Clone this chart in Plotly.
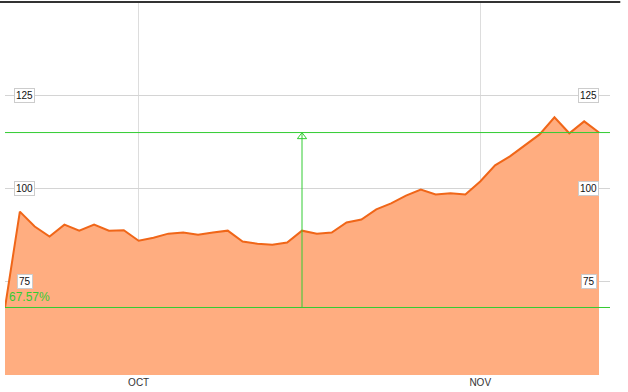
import plotly.graph_objects as go

# Daily closing values (trading days)
values = [68.1, 93.8, 89.8, 87.1, 90.3, 88.7, 90.3, 88.7, 88.8, 86.0,
          86.8, 87.9, 88.2, 87.6, 88.2, 88.7, 85.8, 85.2, 84.9, 85.5,
          88.7, 87.9, 88.2, 90.9, 91.7, 94.4, 96.0, 98.1, 99.7, 98.4,
          98.7, 98.4, 101.9, 106.2, 108.6, 111.6, 114.5, 119.1, 114.8, 118.0,
          115.0]
idx = list(range(len(values)))
month_tick_idx = [9, 32]
month_labels = ["OCT", "NOV"]
y_ticks = [75, 100, 125]
low_val = values[0]
high_val = values[-1]
change_label = "67.57%"
marker_idx = 20

fill_color = "rgb(255,173,128)"
line_color = "rgb(240,102,24)"
green = "rgb(51,204,51)"

fig = go.Figure()
fig.add_trace(go.Scatter(x=idx, y=values, mode="lines", fill="tozeroy",
                         fillcolor=fill_color,
                         line=dict(color=line_color, width=2),
                         hoverinfo="skip", showlegend=False))
fig.add_trace(go.Scatter(x=[marker_idx], y=[high_val - 1.1], mode="markers",
                         marker=dict(symbol="triangle-up-open", size=8,
                                     color=green, line=dict(width=1, color=green)),
                         hoverinfo="skip", showlegend=False))

shapes = [
    dict(type="line", xref="paper", yref="y", x0=0, x1=1, y0=high_val, y1=high_val,
         line=dict(color=green, width=1)),
    dict(type="line", xref="paper", yref="y", x0=0, x1=1, y0=low_val, y1=low_val,
         line=dict(color=green, width=1)),
    dict(type="line", xref="x", yref="y", x0=marker_idx, x1=marker_idx,
         y0=low_val, y1=high_val, line=dict(color=green, width=1)),
    dict(type="line", xref="paper", yref="paper", x0=-0.01, x1=1.017, y0=1, y1=1,
         line=dict(color="#333333", width=2)),
]

annotations = []
for v in y_ticks:
    for xp in (0.033, 0.965):
        annotations.append(dict(x=xp, y=v, xref="paper", yref="y", text=str(v),
                                showarrow=False, xanchor="center", yanchor="middle",
                                bgcolor="white",
                                bordercolor="#cccccc", borderwidth=1, borderpad=1,
                                font=dict(family="Liberation Sans, Arial", size=10,
                                          color="#111111")))
annotations.append(dict(x=0.003, y=low_val, xref="paper", yref="y", text=change_label,
                        showarrow=False, xanchor="left", yanchor="bottom", yshift=1,
                        font=dict(family="Liberation Sans, Arial", size=12, color=green)))

fig.update_layout(
    width=628, height=392,
    margin=dict(l=5, r=18, t=2, b=17),
    paper_bgcolor="white", plot_bgcolor="white",
    shapes=shapes, annotations=annotations,
    xaxis=dict(range=[0, 40.74], tickvals=month_tick_idx, ticktext=month_labels,
               showgrid=True, gridcolor="#dddddd", gridwidth=1, zeroline=False,
               showline=False, ticks="", tickfont=dict(family="Liberation Sans, Arial",
                                                       size=10, color="#333333")),
    yaxis=dict(range=[50, 150], tickvals=y_ticks, showticklabels=False,
               showgrid=True, gridcolor="#d4d4d4", gridwidth=1, zeroline=False,
               showline=False, ticks=""),
)
fig.write_html("out.html")
